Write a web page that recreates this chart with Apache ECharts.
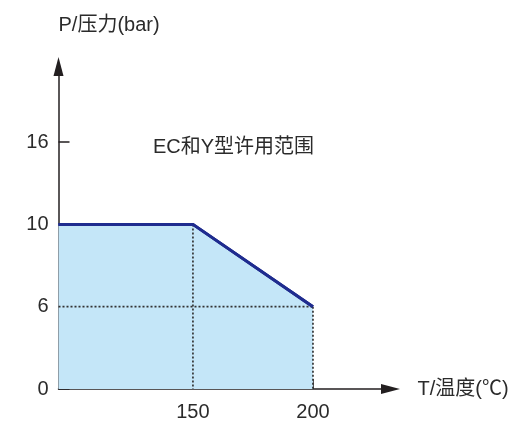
<!DOCTYPE html>
<html><head><meta charset="utf-8">
<script src="https://cdn.jsdelivr.net/npm/echarts@6/dist/echarts.min.js"></script>
<style>html,body{margin:0;padding:0;background:#fff}#c{width:516px;height:422px}</style>
</head><body><div id="c"></div>
<script>
const tempTicks = [150, 200];
const pressureTicks = [0, 6, 10, 16];
const limitTemps = [94, 150, 200];      // first point sits at the axis start
const limitPressures = [10, 10, 6];
const regionLabel = 'EC和Y型许用范围';
const xName = 'T/温度(℃)';
const yName = 'P/压力(bar)';

const FONT = '"Liberation Sans", "Noto Sans CJK SC", sans-serif';
const TXT = '#2b2b2b';
const AX = '#231f20';
const pIdx = v => pressureTicks.indexOf(v);

const limitData = limitTemps.map((t, i) => [t, pIdx(limitPressures[i])]);
const dotStyle = { color: '#333', width: 1.7, type: [2, 2] };
const guideSeries = [
  [[tempTicks[0], pIdx(limitPressures[1])], [tempTicks[0], pIdx(pressureTicks[0])]],
  [[tempTicks[1], pIdx(limitPressures[2])], [tempTicks[1], pIdx(pressureTicks[0])]],
  [[limitTemps[0], pIdx(limitPressures[2])], [tempTicks[1], pIdx(limitPressures[2])]]
].map(d => ({ type: 'line', data: d, symbol: 'none', silent: true, lineStyle: dotStyle, z: 3 }));

const chart = echarts.init(document.getElementById('c'));
chart.setOption({
  animation: false,
  grid: { left: 58.5, right: 125.5, top: 66.5, bottom: 29 },
  xAxis: {
    type: 'value', min: 94, max: 232.3,
    name: xName, nameLocation: 'end', nameGap: 27,
    nameTextStyle: { color: TXT, fontSize: 20, fontFamily: FONT },
    axisLine: { lineStyle: { color: AX, width: 1.5 }, symbol: ['none', 'triangle'], symbolSize: [10, 19] },
    axisTick: { show: true, inside: true, length: 10, lineStyle: { color: AX, width: 1.5 }, customValues: tempTicks },
    axisLabel: { color: TXT, fontSize: 20, fontFamily: FONT, margin: 13, customValues: tempTicks },
    splitLine: { show: false }
  },
  yAxis: {
    type: 'value', min: 0, max: 3.918, interval: 1,
    name: yName, nameLocation: 'end', nameGap: 31,
    nameTextStyle: { color: TXT, fontSize: 20, fontFamily: FONT, align: 'left' },
    axisLine: { show: true, lineStyle: { color: AX, width: 1.5 }, symbol: ['none', 'triangle'], symbolSize: [10, 19] },
    axisTick: { show: true, inside: true, length: 11, lineStyle: { color: AX, width: 1.5 }, customValues: [0, 1, 2, 3] },
    axisLabel: { color: TXT, fontSize: 20, fontFamily: FONT, margin: 10, customValues: [0, 1, 2, 3],
      formatter: v => String(pressureTicks[Math.round(v)]) },
    splitLine: { show: false }
  },
  graphic: [{
    type: 'text', left: 153, top: 137,
    style: { text: regionLabel, fill: TXT, font: '20px ' + FONT }
  }],
  series: [{
    type: 'line', data: limitData, symbol: 'none', z: 2,
    lineStyle: { color: '#1f2c8f', width: 3 },
    areaStyle: { color: '#c4e6f8', opacity: 1, origin: 'start' }
  }].concat(guideSeries).concat([{
    type: 'line', data: limitData, symbol: 'none', z: 4,
    lineStyle: { color: '#1f2c8f', width: 3 }
  }])
});
</script></body></html>
